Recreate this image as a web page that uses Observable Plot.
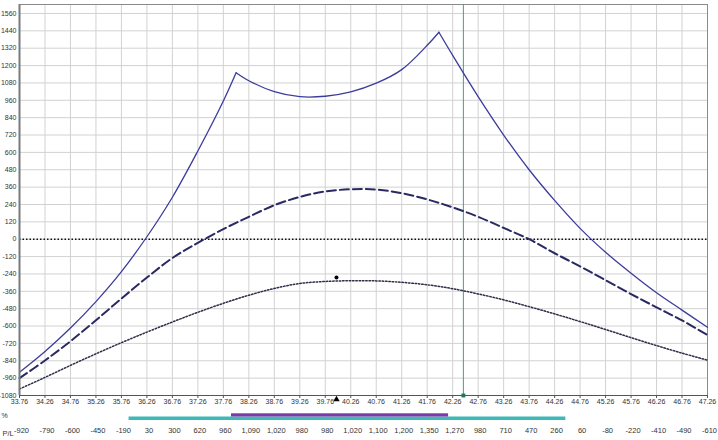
<!DOCTYPE html>
<html><head><meta charset="utf-8">
<script src="https://cdn.jsdelivr.net/npm/d3@7"></script>
<script src="https://cdn.jsdelivr.net/npm/@observablehq/plot@0.6"></script>
<style>
body{margin:0;background:#fff;}
#chart{width:718px;height:440px;overflow:hidden;font-family:"Liberation Sans Narrow","Liberation Sans",Arial,sans-serif;}
#chart svg{display:block}
#strip{background:linear-gradient(to bottom,#fff 0,#fff 8px,#a0a0a0 8px,#a0a0a0 11px,#d8d5c8 11px,#d8d5c8 12px,#ece9d8 12px)}
</style></head><body><div id="chart"></div>
<script>
// price ticks (x axis)
const xTicks = [33.76, 34.26, 34.76, 35.26, 35.76, 36.26, 36.76, 37.26, 37.76, 38.26, 38.76, 39.26, 39.76, 40.26,
                40.76, 41.26, 41.76, 42.26, 42.76, 43.26, 43.76, 44.26, 44.76, 45.26, 45.76, 46.26, 46.76, 47.26];
// value ticks (y axis)
const yTicks = [-1080, -960, -840, -720, -600, -480, -360, -240, -120, 0, 120, 240, 360, 480, 600, 720,
                840, 960, 1080, 1200, 1320, 1440, 1560];
// P/L row text
const plValues = [-920, -790, -600, -450, -190, 30, 300, 620, 960, 1090, 1020, 980, 980, 1020,
                  1100, 1200, 1350, 1270, 980, 710, 470, 260, 60, -80, -220, -410, -490, -610];
// solid line read at each price tick
const solidValues = [-920, -776, -614, -431, -224, 17, 290, 610, 955, 1095, 1020, 985, 988, 1018,
                     1078, 1172, 1340, 1270, 985, 720, 480, 268, 75, -90, -235, -370, -490, -608];
// kinks of the solid line
const peakX = [38.01, 41.99];
const peakY = [1150, 1430];
// dashed line
const dashedValues = [-960, -838, -705, -560, -410, -265, -130, -25, 70, 155, 235, 292, 330, 345,
                      343, 318, 275, 220, 155, 78, 0, -97, -188, -283, -379, -471, -561, -662];
// dotted line
const dottedValues = [-1035, -955, -872, -792, -715, -642, -572, -505, -443, -387, -340, -306, -292, -287,
                      -288, -298, -315, -342, -378, -419, -466, -516, -569, -624, -680, -735, -787, -836];
// markers
const currentPrice = [42.47];
const dotPrice = [39.98];
const dotValue = [-265];
// range bars below the axis
const tealRange = [35.91, 44.48];
const purpleRange = [37.92, 42.18];

const solidPts = xTicks.map((x, i) => ({x, y: solidValues[i]}))
  .concat(peakX.map((x, i) => ({x, y: peakY[i]})))
  .sort((a, b) => a.x - b.x);
const solid = [];
solidPts.forEach(p => {
  if (p.x <= peakX[0]) solid.push({...p, s: 0});
  if (p.x >= peakX[0] && p.x <= peakX[1]) solid.push({...p, s: 1});
  if (p.x >= peakX[1]) solid.push({...p, s: 2});
});
const dashed = xTicks.map((x, i) => ({x, y: dashedValues[i]}));
const dotted = xTicks.map((x, i) => ({x, y: dottedValues[i]}));

const xDomain = [xTicks[0], xTicks[xTicks.length - 1]];
const fmtPL = v => d3.format(",")(v).replace("\u2212", "-");
const FONT = "'Liberation Sans Narrow','Liberation Sans',Arial,sans-serif";

const main = Plot.plot({
  width: 718, height: 409,
  marginTop: 4, marginRight: 11, marginBottom: 14, marginLeft: 19,
  style: {fontSize: "7px", fontFamily: FONT, color: "#333", background: "#fff"},
  x: {domain: xDomain, label: null},
  y: {domain: [-1080, 1622], label: null},
  marks: [
    Plot.ruleX(xTicks, {stroke: "#d2d2d2", strokeWidth: 1}),
    Plot.ruleY(yTicks, {stroke: "#d2d2d2", strokeWidth: 1}),
    Plot.frame({stroke: "#8a8a8a"}),
    Plot.ruleY([0], {stroke: "#111", strokeWidth: 1.5, strokeDasharray: "1.5,2"}),
    Plot.ruleX(currentPrice, {stroke: "#3fa38a", strokeWidth: 1}),
    Plot.line(dotted, {x: "x", y: "y", curve: "catmull-rom", stroke: "#2e2e48", strokeWidth: 1.5, strokeDasharray: "1.5,1.8"}),
    Plot.line(dashed, {x: "x", y: "y", curve: "catmull-rom", stroke: "#2a2a62", strokeWidth: 2, strokeDasharray: "9,4"}),
    Plot.line(solid, {x: "x", y: "y", z: "s", curve: "catmull-rom", stroke: "#3c3c9c", strokeWidth: 1.3}),
    Plot.dot(dotPrice, {x: d => d, y: (d, i) => dotValue[i], r: 2, fill: "#000", stroke: "none"}),
    Plot.ruleX([xDomain[0]], {stroke: "#7a7a7a", strokeWidth: 2}),
    Plot.ruleY([-1080], {stroke: "#555", strokeWidth: 1}),
    Plot.dot(currentPrice, {x: d => d, y: -1080, symbol: "square", r: 2.2, fill: "#1d7a52", stroke: "none"}),
    Plot.dot(dotPrice, {x: d => d, y: -1080, dy: 4, symbol: "triangle", r: 2.4, fill: "#000", stroke: "none"}),
    Plot.axisX({ticks: xTicks, tickFormat: d => d.toFixed(2), tickSize: 3, tickPadding: 1, stroke: "#555", label: null}),
    Plot.axisY({ticks: yTicks, tickFormat: d => String(d), tickSize: 0, tickPadding: 3, label: null})
  ]
});

const strip = Plot.plot({
  width: 718, height: 31,
  marginTop: 0, marginRight: 11, marginBottom: 0, marginLeft: 19,
  style: {fontSize: "7.5px", fontFamily: FONT, color: "#333", background: "transparent", overflow: "visible"},
  x: {domain: xDomain, axis: null},
  y: {domain: [0, 31], range: [0, 31], axis: null},
  marks: [
    Plot.rect([tealRange], {x1: d => d[0], x2: d => d[1], y1: 7.5, y2: 11, fill: "#3fb8b8"}),
    Plot.rect([purpleRange], {x1: d => d[0], x2: d => d[1], y1: 4.3, y2: 7.5, fill: "#7a3aa8"}),
    Plot.text(["%"], {frameAnchor: "top-left", dx: -18, dy: 4, textAnchor: "start", fontSize: 7, fill: "#333"}),
    Plot.text(["P/L"], {frameAnchor: "top-left", dx: -17, dy: 21, textAnchor: "start", fill: "#333"}),
    Plot.text(xTicks, {x: d => d, y: 21, dx: 2, text: (d, i) => fmtPL(plValues[i]), fill: "#333"})
  ]
});
strip.id = "strip";

const root = document.getElementById("chart");
root.appendChild(main);
root.appendChild(strip);
</script>
</body></html>
